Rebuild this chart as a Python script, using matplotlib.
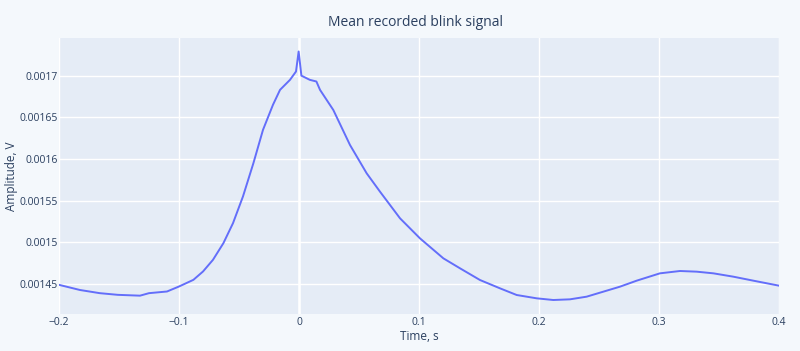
import numpy as np
import matplotlib.pyplot as plt

# values
time_s = [-0.2, -0.1825, -0.166, -0.151, -0.1325, -0.125, -0.110, -0.100, -0.088,
          -0.080, -0.0717, -0.063, -0.055, -0.0467, -0.038, -0.030, -0.0217,
          -0.0158, -0.0075, -0.0025, -0.0003, 0.002, 0.009, 0.0145, 0.0175,
          0.0286, 0.0425, 0.0564, 0.0675, 0.0842, 0.1008, 0.1203, 0.1342,
          0.1508, 0.1675, 0.1814, 0.1981, 0.2119, 0.2258, 0.2397, 0.2536,
          0.2675, 0.2814, 0.3008, 0.3175, 0.3314, 0.3453, 0.3619, 0.3786, 0.4]
amplitude_v = [0.001449, 0.0014428, 0.001439, 0.001437, 0.001436, 0.001439, 0.001441,
               0.001447, 0.001455, 0.001465, 0.001479, 0.001499, 0.001523, 0.001555,
               0.001595, 0.001635, 0.001665, 0.001683, 0.001695, 0.001705, 0.001729,
               0.0017, 0.001695, 0.001693, 0.001683, 0.0016588, 0.0016168, 0.0015828,
               0.0015608, 0.0015288, 0.0015048, 0.0014808, 0.0014688, 0.0014548,
               0.0014448, 0.0014368, 0.0014328, 0.0014308, 0.0014316, 0.0014348,
               0.0014408, 0.0014468, 0.001454, 0.0014628, 0.0014656, 0.0014648,
               0.0014628, 0.0014588, 0.001454, 0.001448]

x_ticks = [-0.2, -0.1, 0, 0.1, 0.2, 0.3, 0.4]
x_tick_labels = ['\u22120.2', '\u22120.1', '0', '0.1', '0.2', '0.3', '0.4']
y_ticks = [0.00145, 0.0015, 0.00155, 0.0016, 0.00165, 0.0017]
y_tick_labels = ['0.00145', '0.0015', '0.00155', '0.0016', '0.00165', '0.0017']

plt.rcParams['font.family'] = ['Open Sans', 'DejaVu Sans']
text_col = '#2a3f5f'

fig = plt.figure(figsize=(8, 3.51), dpi=100, facecolor='#f4f8fc')
ax = fig.add_axes([59 / 800, 1 - 314 / 351, 720 / 800, 276 / 351])
ax.set_facecolor('#e5ecf6')

ax.plot(time_s, amplitude_v, color='#636efa', lw=1.4, zorder=3)

ax.set_xlim(-0.2, 0.4)
ax.set_ylim(0.001414, 0.0017452)
ax.set_xticks(x_ticks)
ax.set_xticklabels(x_tick_labels)
ax.set_yticks(y_ticks)
ax.set_yticklabels(y_tick_labels)
ax.grid(True, color='white', lw=1)
ax.axvline(0, color='white', lw=1.8, zorder=1)
ax.set_axisbelow(True)
for s in ax.spines.values():
    s.set_visible(False)
ax.tick_params(length=0, labelsize=7.5, labelcolor=text_col)
ax.tick_params(axis='x', pad=2.5)
ax.tick_params(axis='y', pad=1)

ax.set_xlabel('Time, s', fontsize=8.5, color=text_col)
ax.set_ylabel('Amplitude, V', fontsize=8.5, color=text_col)
ax.xaxis.set_label_coords(0.5, -(337 - 314) / 276, transform=ax.transAxes)
ax.xaxis.label.set_va('center')
ax.yaxis.set_label_coords(-(59 - 11) / 720, 0.5, transform=ax.transAxes)
ax.yaxis.label.set_va('center')
fig.text(416 / 800, 1 - 22 / 351, 'Mean recorded blink signal', ha='center', va='center',
         fontsize=10, color=text_col)

fig.savefig('out.png', dpi=100, facecolor=fig.get_facecolor())
